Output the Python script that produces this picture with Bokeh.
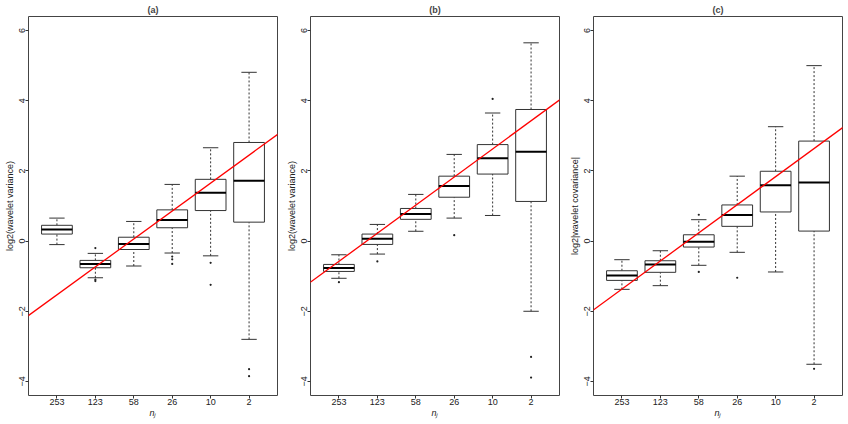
from bokeh.plotting import figure
from bokeh.layouts import row
from bokeh.models import FixedTicker, Range1d, Slope
from bokeh.embed import file_html
from bokeh.resources import INLINE

categories = ["253", "123", "58", "26", "10", "2"]
positions = [1, 2, 3, 4, 5, 6]
y_ticks = [-4, -2, 0, 2, 4, 6]
titles = ["(a)", "(b)", "(c)"]
y_labels = ["log2(wavelet variance)", "log2(wavelet variance)", "log2|wavelet covariance|"]
x_label = "n\u2c7c"

# panel (a)
a_low = [-0.10, -1.045, -0.71, -0.34, -0.42, -2.80]
a_q1 = [0.20, -0.76, -0.24, 0.38, 0.87, 0.54]
a_med = [0.33, -0.655, -0.085, 0.60, 1.38, 1.72]
a_q3 = [0.45, -0.55, 0.11, 0.89, 1.76, 2.81]
a_high = [0.655, -0.35, 0.56, 1.615, 2.66, 4.81]
a_out_x = [2, 2, 2, 4, 4, 4, 5, 5, 6, 6]
a_out_y = [-0.20, -1.10, -1.14, -0.44, -0.52, -0.65, -0.62, -1.245, -3.65, -3.85]

# panel (b)
b_low = [-1.06, -0.37, 0.28, 0.655, 0.73, -2.00]
b_q1 = [-0.865, -0.095, 0.62, 1.25, 1.91, 1.13]
b_med = [-0.77, 0.066, 0.77, 1.57, 2.36, 2.545]
b_q3 = [-0.665, 0.20, 0.93, 1.85, 2.75, 3.75]
b_high = [-0.39, 0.475, 1.33, 2.47, 3.65, 5.65]
b_out_x = [1, 2, 4, 5, 6, 6]
b_out_y = [-1.17, -0.58, 0.17, 4.05, -3.30, -3.89]

# panel (c)
c_low = [-1.375, -1.27, -0.69, -0.32, -0.88, -3.51]
c_q1 = [-1.12, -0.89, -0.17, 0.42, 0.83, 0.285]
c_med = [-0.98, -0.665, -0.02, 0.74, 1.59, 1.67]
c_q3 = [-0.845, -0.56, 0.18, 1.03, 1.99, 2.85]
c_high = [-0.53, -0.275, 0.61, 1.85, 3.26, 5.00]
c_out_x = [3, 3, 4, 6]
c_out_y = [0.75, -0.88, -1.045, -3.64]

# fitted red lines
line_intercepts = [-2.327, -1.378, -2.168]
line_slopes = [0.796, 0.801, 0.801]

FONT = "Liberation Sans"
EDGE = "#333333"


def make_panel(idx, low, q1, med, q3, high, out_x, out_y, width, left, right):
    p = figure(width=width, height=424, output_backend="svg", toolbar_location=None,
               x_range=Range1d(0.26, 6.74), y_range=Range1d(-4.4, 6.4),
               min_border_left=left, min_border_right=right,
               min_border_top=16, min_border_bottom=29)
    p.title.text = titles[idx]
    p.title.align = "center"
    p.title.text_font = FONT
    p.title.text_font_size = "9px"
    p.title.text_font_style = "bold"
    p.title.standoff = 3
    p.xgrid.visible = False
    p.ygrid.visible = False
    p.outline_line_color = "#444444"
    p.outline_line_width = 1
    p.background_fill_color = "white"
    p.border_fill_color = "white"

    # whiskers
    p.segment(x0=positions, y0=q3, x1=positions, y1=high, line_color=EDGE,
              line_width=1, line_dash="2 2")
    p.segment(x0=positions, y0=low, x1=positions, y1=q1, line_color=EDGE,
              line_width=1, line_dash="2 2")
    caps_l = [x - 0.2 for x in positions]
    caps_r = [x + 0.2 for x in positions]
    p.segment(x0=caps_l, y0=high, x1=caps_r, y1=high, line_color=EDGE, line_width=1)
    p.segment(x0=caps_l, y0=low, x1=caps_r, y1=low, line_color=EDGE, line_width=1)
    # boxes
    p.vbar(x=positions, width=0.8, bottom=q1, top=q3, fill_color="white",
           line_color=EDGE, line_width=1)
    box_l = [x - 0.4 for x in positions]
    box_r = [x + 0.4 for x in positions]
    p.segment(x0=box_l, y0=med, x1=box_r, y1=med, line_color="black", line_width=2)
    # outliers
    p.scatter(x=out_x, y=out_y, marker="circle", size=2.2, fill_color="#222222",
              line_color=None)
    # red line
    p.add_layout(Slope(gradient=line_slopes[idx], y_intercept=line_intercepts[idx],
                       line_color="red", line_width=1.3))

    # axes
    xa = p.xaxis[0]
    xa.ticker = FixedTicker(ticks=positions)
    xa.major_label_overrides = {pos: lab for pos, lab in zip(positions, categories)}
    xa.axis_label = x_label
    xa.axis_label_text_font_style = "italic"
    xa.axis_label_standoff = 0
    ya = p.yaxis[0]
    ya.ticker = FixedTicker(ticks=y_ticks)
    ya.major_label_orientation = "vertical"
    ya.axis_label = y_labels[idx]
    ya.axis_label_text_font_style = "normal"
    ya.axis_label_standoff = 2
    for ax in (xa, ya):
        ax.axis_line_color = None
        ax.major_tick_line_color = EDGE
        ax.major_tick_out = 3
        ax.major_tick_in = 0
        ax.minor_tick_line_color = None
        ax.major_label_text_font = FONT
        ax.major_label_text_font_size = "9px"
        ax.major_label_text_color = "#222222"
        ax.axis_label_text_font = FONT
        ax.axis_label_text_font_size = "9px"
        ax.axis_label_text_color = "#222222"
    xa.major_label_standoff = 0
    ya.major_label_standoff = 0
    return p


pa = make_panel(0, a_low, a_q1, a_med, a_q3, a_high, a_out_x, a_out_y, 282, 28, 5)
pb = make_panel(1, b_low, b_q1, b_med, b_q3, b_high, b_out_x, b_out_y, 283, 28, 6)
pc = make_panel(2, c_low, c_q1, c_med, c_q3, c_high, c_out_x, c_out_y, 283, 28, 6)

layout = row(pa, pb, pc)

open("out.html", "w").write(file_html(layout, INLINE))
